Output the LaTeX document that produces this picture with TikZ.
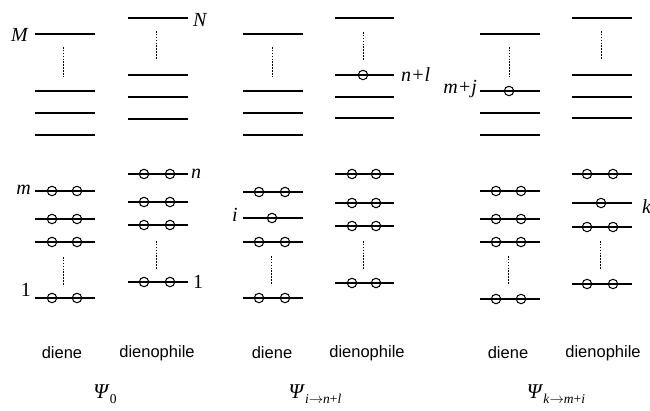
\documentclass[tikz,border=0pt]{standalone}
\usepackage{fontspec}
\setmainfont{Liberation Serif}
\setsansfont{Liberation Sans}
\tikzset{
  level/.style={line width=1.8pt},
  elec/.style={line width=1.05pt},
  gap/.style={line width=0.7pt, dash pattern=on 1.6pt off 1.3pt},
  lab/.style={font=\fontsize{20}{20}\selectfont\itshape, inner sep=0pt},
  num/.style={font=\fontsize{20}{20}\selectfont, inner sep=0pt},
  mol/.style={font=\sffamily\fontsize{16.5}{16.5}\selectfont, inner sep=0pt},
  state/.style={font=\fontsize{21}{21}\selectfont, inner sep=0pt, anchor=base}
}
% one orbital level from x=#1 to x=#2 at height #3
\newcommand\orbital[3]{\draw[level] (#1,#3) -- (#2,#3);}
% one electron drawn as a ring at (#1,#2)
\newcommand\electron[2]{\draw[elec] (#1,#2) circle (4.7pt);}
% lowered subscript of a configuration label
\newcommand\cfgsub[1]{\raisebox{-5pt}{\fontsize{13.5}{13.5}\selectfont #1}}
\begin{document}
\begin{tikzpicture}[x=1pt,y=-1pt]
\useasboundingbox (0,0) rectangle (650,411);

% ---------- Psi_0 : diene ----------
\foreach \y in {34,91,113,135,191,219,242,298} {\orbital{35}{95}{\y}}
\foreach \y in {191,219,242,298} {\electron{52}{\y}\electron{77}{\y}}
\draw[gap] (63,47) -- (63,77);
\draw[gap] (63,257) -- (63,286);
\node[lab, anchor=base east] (labM) at (28,42) {M};
\node[lab, anchor=base east] (labm) at (31,195) {m};
\node[num, anchor=base east] (labone) at (31,297) {1};

% ---------- Psi_0 : dienophile ----------
\foreach \y in {18,75,97,119,174,202,225,282} {\orbital{128}{188}{\y}}
\foreach \y in {174,202,225,282} {\electron{144}{\y}\electron{170}{\y}}
\draw[gap] (156,31) -- (156,60);
\draw[gap] (156,241) -- (156,269);
\node[lab, anchor=base west] (labN) at (193,27) {N};
\node[lab, anchor=base west] (labn) at (191,179) {n};
\node[num, anchor=base west] (labonep) at (193,289) {1};

% ---------- Psi_{i->n+l} : diene ----------
\foreach \y in {34,91,113,135,192,218,242,298} {\orbital{243}{303}{\y}}
\foreach \y in {192,242,298} {\electron{259}{\y}\electron{285}{\y}}
\electron{272}{218}
\draw[gap] (272,47) -- (272,77);
\draw[gap] (271,256) -- (271,285);
\node[lab, anchor=base east] (labi) at (238,222) {i};

% ---------- Psi_{i->n+l} : dienophile ----------
\foreach \y in {18,75,97,118,174,203,226,283} {\orbital{335}{394}{\y}}
\foreach \y in {174,203,226,283} {\electron{352}{\y}\electron{376}{\y}}
\electron{363}{75}
\draw[gap] (363,32) -- (363,60);
\draw[gap] (363,241) -- (363,269);
\node[lab, anchor=base west] (labnl) at (401,82) {n+l};

% ---------- Psi_{k->m+i} : diene ----------
\foreach \y in {34,91,113,135,191,219,242,299} {\orbital{480}{540}{\y}}
\foreach \y in {191,219,242,299} {\electron{496}{\y}\electron{521}{\y}}
\electron{509}{91}
\draw[gap] (509,47) -- (509,77);
\draw[gap] (508,256) -- (508,285);
\node[lab, anchor=base east] (labmj) at (477,94) {m+j};

% ---------- Psi_{k->m+i} : dienophile ----------
\foreach \y in {18,75,97,118,174,203,227,284} {\orbital{572}{632}{\y}}
\foreach \y in {174,227,284} {\electron{587}{\y}\electron{613}{\y}}
\electron{601}{203}
\draw[gap] (601,31) -- (601,60);
\draw[gap] (600,241) -- (600,269);
\node[lab, anchor=base west] (labk) at (642,214) {k};

% ---------- molecule names ----------
\node[mol] (d1) at (62,353) {diene};
\node[mol] (p1) at (157,353) {dienophile};
\node[mol] (d2) at (272,353) {diene};
\node[mol] (p2) at (367,353) {dienophile};
\node[mol] (d3) at (508,353) {diene};
\node[mol] (p3) at (603,353) {dienophile};

% ---------- configuration labels ----------
\node[state] (s1) at (105,398) {\textit{Ψ}\cfgsub{0}};
\node[state] (s2) at (315,398) {\textit{Ψ}\cfgsub{\textit{i}$\rightarrow$\textit{n}+\textit{l}}};
\node[state] (s3) at (556,398) {\textit{Ψ}\cfgsub{\textit{k}$\rightarrow$\textit{m}+\textit{i}}};
\end{tikzpicture}
\end{document}
